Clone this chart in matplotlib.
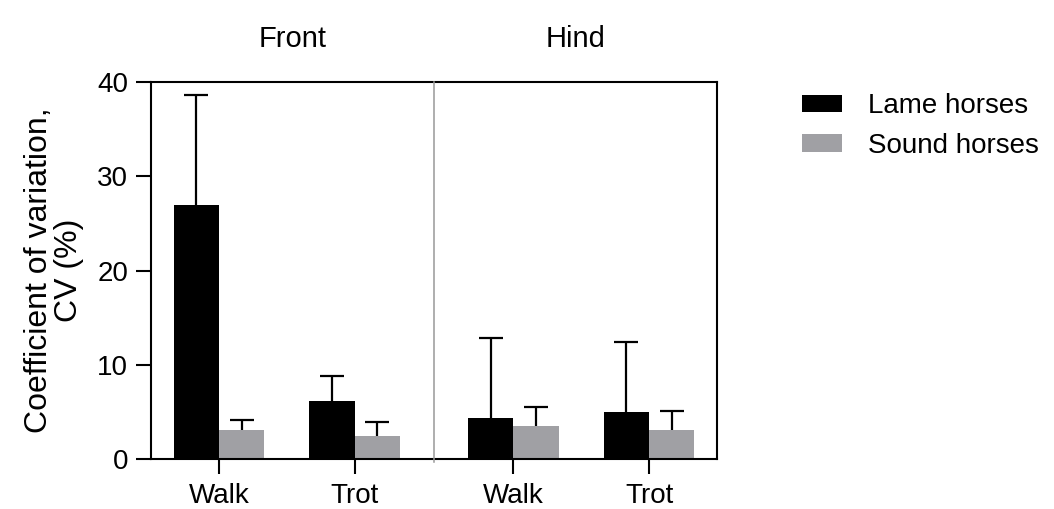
import matplotlib
matplotlib.use("Agg")
import matplotlib.pyplot as plt
from matplotlib.patches import Patch
import numpy as np

plt.rcParams['font.family'] = ['Liberation Sans', 'DejaVu Sans']

panels = ["Front", "Hind"]
gaits = ["Walk", "Trot"]
series = ["Lame horses", "Sound horses"]
# order: Front-Walk, Front-Trot, Hind-Walk, Hind-Trot
lame_mean = [27.0, 6.2, 4.4, 5.0]
lame_sd = [11.6, 2.65, 8.5, 7.4]
sound_mean = [3.05, 2.45, 3.55, 3.1]
sound_sd = [1.05, 1.5, 2.0, 2.0]
colors = ["#000000", "#a0a0a4"]

fig = plt.figure(figsize=(10.54, 5.09), dpi=100)
ax = fig.add_axes([151/1054, 1-459/509, (717-151)/1054, (459-82.3)/509])

centers = np.array([0, 3, 6.5, 9.5])
w = 1.0
cap = 0.265
for vals, sds, col, off in [(lame_mean, lame_sd, colors[0], -w/2),
                            (sound_mean, sound_sd, colors[1], w/2)]:
    xs = centers + off
    vals = np.array(vals)
    tops = vals + np.array(sds)
    ax.vlines(xs, vals, tops, colors='black', lw=1.6, zorder=1)
    ax.hlines(tops, xs - cap, xs + cap, colors='black', lw=1.6, zorder=1)
    ax.bar(xs, vals, width=w, color=col, edgecolor='none', zorder=2)

ax.set_xlim(-1.5, 11.0)
ax.set_ylim(0, 40)
ax.axvline(4.75, color='#999999', lw=1.1, ymin=-0.008, ymax=1, clip_on=False, zorder=3)

ax.set_yticks([0, 10, 20, 30, 40])
ax.set_xticks(centers)
ax.set_xticklabels(gaits * 2)
ax.tick_params(axis='both', labelsize=20, width=1.5, length=10.5, color='black')
ax.tick_params(axis='y', pad=6)
ax.tick_params(axis='x', pad=7)
for s in ax.spines.values():
    s.set_linewidth(1.5)

ax.set_ylabel("Coefficient of variation,\nCV (%)", fontsize=23, linespacing=1.0)
ax.yaxis.set_label_coords(-0.118, 0.5)

ax.text(np.mean([-1.5, 4.75]), 43.8, panels[0], ha='center', va='baseline', fontsize=21)
ax.text(np.mean([4.75, 11.0]), 43.8, panels[1], ha='center', va='baseline', fontsize=21)

handles = [Patch(facecolor=c, edgecolor='none') for c in colors]
fig.legend(handles, series, loc='upper left', bbox_to_anchor=(802/1054, 1-93/509),
           frameon=False, fontsize=20, handlelength=1.44, handleheight=0.576,
           handletextpad=0.94, labelspacing=0.5, borderaxespad=0, borderpad=0)

fig.savefig("out.png", dpi=100)
